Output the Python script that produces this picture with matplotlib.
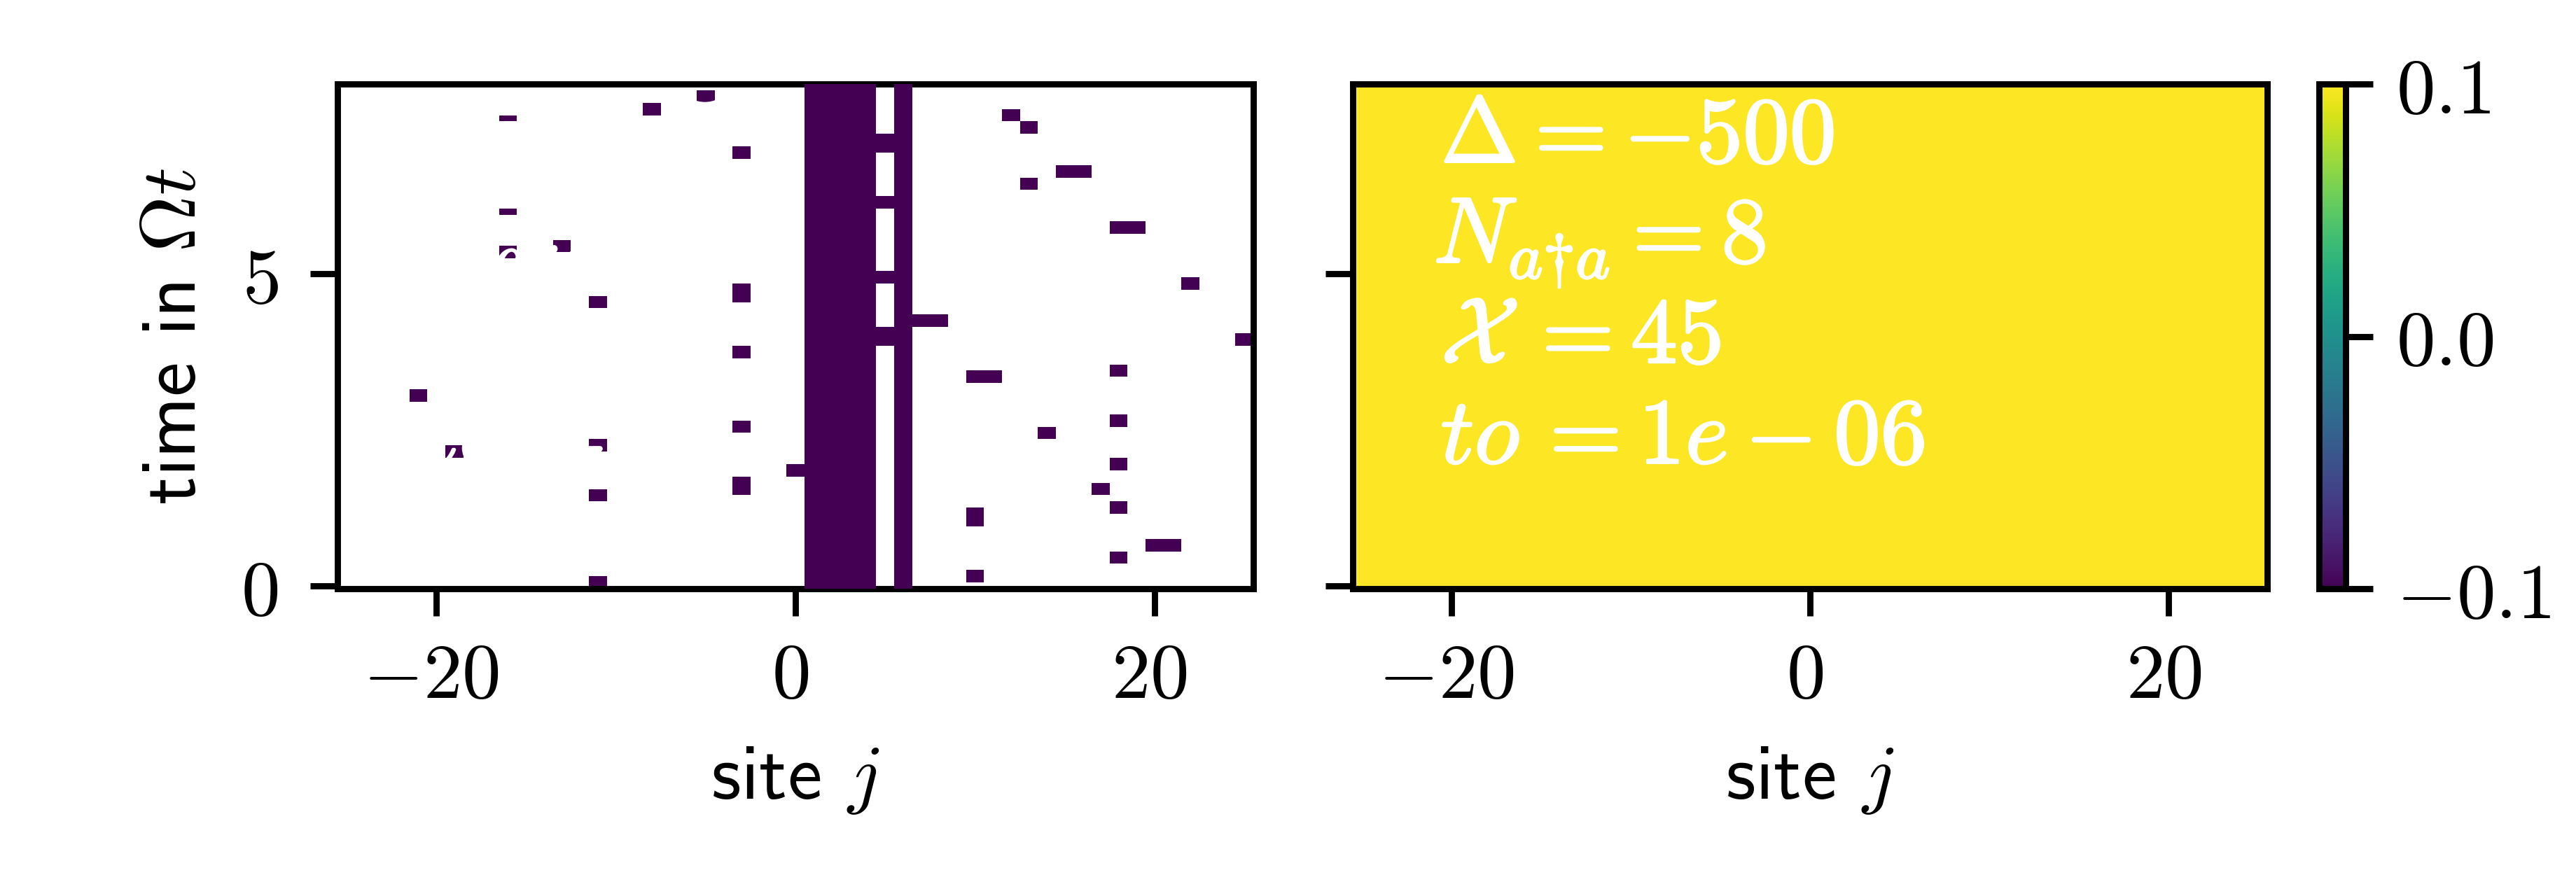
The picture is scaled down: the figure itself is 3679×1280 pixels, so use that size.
import numpy as np
import matplotlib
matplotlib.use('Agg')
import matplotlib.pyplot as plt
import matplotlib.patheffects as pe
from matplotlib.transforms import ScaledTranslation

plt.rcParams['mathtext.fontset'] = 'cm'
plt.rcParams['font.size'] = 10

# grid of the simulation
sites = np.arange(-25, 26)
times = np.arange(81) / 10

# isolated occupied patches: site, first and last time step (t*10)
patch_site = [-16, -8, -5, -16, -16, -13, -11, -3, -3, -21, -19, -11, -3, 0, -3, -11, -11,
              7, 8, 12, 13, 15, 16, 13, 18, 19, 22, 25, 10, 11, 18, 18, 14, 18, 17, 18, 10,
              20, 21, 18, 10]
patch_first = [75, 76, 78, 60, 53, 54, 45, 46, 37, 30, 21, 22, 25, 18, 15, 14, 0,
               42, 42, 75, 73, 66, 66, 64, 57, 57, 48, 39, 33, 33, 34, 26, 24, 19, 15, 12, 10,
               6, 6, 4, 1]
patch_last = [75, 77, 79, 60, 54, 55, 46, 48, 38, 31, 22, 23, 26, 19, 17, 15, 1,
              43, 43, 76, 74, 67, 67, 65, 58, 58, 49, 40, 34, 34, 35, 27, 25, 20, 16, 13, 12,
              7, 7, 5, 2]

# the central block is occupied the whole time
block_sites = [1, 2, 3, 4, 6]
# site 5 only some of the time
site5_first = [70, 61, 49, 39]
site5_last = [72, 62, 50, 41]
# site -3 patch that sits in front of the annotation
front_first = 69
front_last = 70

text_lines = [r'$\Delta = {-}500$', r'$N_{a{\dagger}a} = 8$', r'$\mathcal{X}\:= 45$', r'$to\,= 1e - 06$']

x_ticks = [-20, 0, 20]
x_tick_labels = ['$-20$', '$0$', '$20$']
y_ticks = [0, 5]
y_tick_labels = ['$0$', '$5$']
cbar_ticks = [-0.1, 0.0, 0.1]
cbar_tick_labels = ['$-0.1$', '$0.0$', '$0.1$']

site_edges = np.append(sites - 0.5, sites[-1] + 0.5)
time_edges = np.append(times - 0.05, times[-1] + 0.05)

# fill in the grids
patches = np.full((len(times), len(sites)), np.nan)
for s, a, b in zip(patch_site, patch_first, patch_last):
    patches[a:b + 1, s + 25] = -0.1

block = np.full((len(times), len(sites)), np.nan)
for s in block_sites:
    block[:, s + 25] = -0.1
for a, b in zip(site5_first, site5_last):
    block[a:b + 1, 5 + 25] = -0.1
block[front_first:front_last + 1, -3 + 25] = -0.1

full = np.full((len(times), len(sites)), 0.1)

W, H = 3679, 1280
fig = plt.figure(figsize=(W / 800, H / 800), dpi=800)
ax1 = fig.add_axes([482 / W, (H - 841) / H, 1308 / W, 721 / H])
ax2 = fig.add_axes([1932 / W, (H - 841) / H, 1306 / W, 721 / H])
cax = fig.add_axes([3312 / W, (H - 841) / H, 38 / W, 721 / H])

ax1.pcolormesh(site_edges, time_edges, np.ma.masked_invalid(patches), cmap='viridis', vmin=-0.1, vmax=0.1, zorder=1)
ax1.pcolormesh(site_edges, time_edges, np.ma.masked_invalid(block), cmap='viridis', vmin=-0.1, vmax=0.1, zorder=3)
mesh = ax2.pcolormesh(site_edges, time_edges, full, cmap='viridis', vmin=-0.1, vmax=0.1)

shift = ScaledTranslation(-0.009, 0, fig.dpi_scale_trans)
for ax in (ax1, ax2):
    for i, line in enumerate(text_lines):
        ax.text(-21.0 if i == 1 else -20.6, 6.79 - 1.61 * i, line, color='white', fontsize=12,
                va='baseline', ha='left', zorder=2,
                path_effects=[pe.withStroke(linewidth=0.25, foreground='white')])
    ax.set_xlim(-25.5, 25.5)
    ax.set_ylim(-0.05, 8.05)
    ax.set_xticks(x_ticks)
    ax.set_xticklabels(x_tick_labels, fontsize=10)
    ax.tick_params(axis='x', pad=3.0)
    for lab in ax.get_xticklabels():
        lab.set_transform(lab.get_transform() + shift)
    ax.set_xlabel('site $j$', fontname='cmss10', fontsize=10)

ax1.set_yticks(y_ticks)
ax1.set_yticklabels(y_tick_labels, fontsize=10)
ax1.tick_params(axis='y', pad=4.1)
ax1.set_ylabel(r'time in $\mathit{\Omega} t$', fontname='cmss10', fontsize=10)
ax2.set_yticks(y_ticks)
ax2.set_yticklabels([])

cb = fig.colorbar(mesh, cax=cax)
cb.set_ticks(cbar_ticks)
cb.set_ticklabels(cbar_tick_labels, fontsize=10)
cax.tick_params(axis='y', pad=3.0)

fig.savefig('out.png', dpi=800)
